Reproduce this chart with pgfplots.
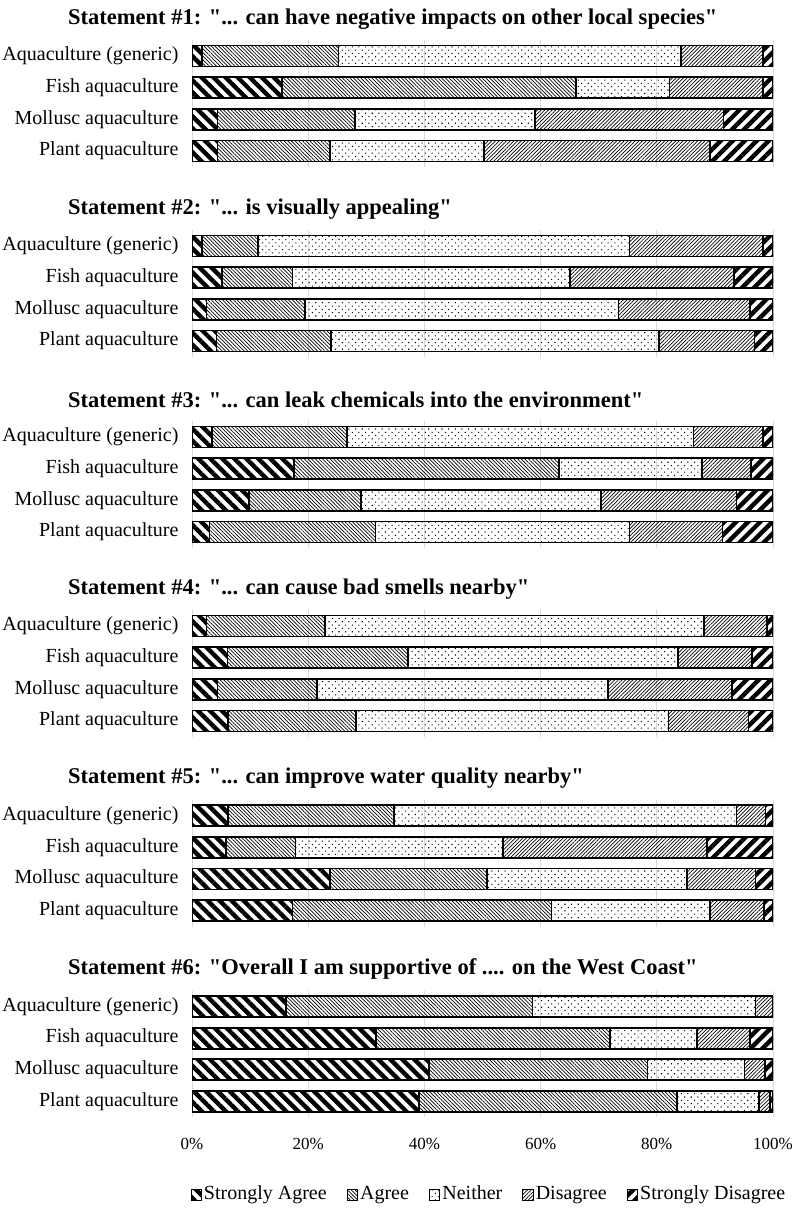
\documentclass[border=0pt]{standalone}
\usepackage{fontspec}
\setmainfont{Liberation Serif}[Ligatures=TeXOff]
\usepackage{pgfplots}
\pgfplotsset{compat=1.18}
\usetikzlibrary{patterns.meta}

\pgfplotsset{
  sa/.style={draw=black, line width=1.7pt, pattern={Lines[angle=-45,distance=8.5pt,line width=4.4pt]}},
  ag/.style={draw=black, line width=1.7pt, pattern={Lines[angle=-45,distance=2.6pt,line width=0.7pt]}},
  ne/.style={draw=black, line width=1.7pt, pattern={Dots[angle=45,distance=4.7pt,radius=0.75pt]}},
  di/.style={draw=black, line width=1.7pt, pattern={Lines[angle=45,distance=2.6pt,line width=0.7pt]}},
  sd/.style={draw=black, line width=1.7pt, pattern={Lines[angle=45,distance=8.5pt,line width=4.4pt]}},
  panel/.style={
    xbar stacked, scale only axis, width=581pt, height=126.6pt,
    anchor=north west,
    xmin=0, xmax=100, ymin=0.5, ymax=4.5,
    bar width=21pt,
    ytick={1,2,3,4},
    yticklabels={Plant aquaculture,Mollusc aquaculture,Fish aquaculture,Aquaculture (generic)},
    yticklabel style={font=\fontsize{20}{24}\selectfont, xshift=-10pt},
    xtick={0,20,40,60,80,100},
    xmajorgrids, major grid style={draw={rgb,255:red,217;green,217;blue,217}, line width=0.9pt},
    axis line style={draw=none}, tick style={draw=none},
    xticklabels={},
    title style={anchor=west, at={(axis description cs:-0.2134,1)}, yshift=15.5pt,
      font=\fontsize{22.5}{26}\selectfont\bfseries, inner sep=0pt},
  },
}

\begin{document}
\begin{tikzpicture}
\useasboundingbox (0pt,0pt) rectangle (794pt,-1210pt);

% Panel 1
\begin{axis}[panel, at={(192pt,-40.2pt)},
  title={Statement \#1: "... can have negative impacts on other local species"}]
\addplot[sa] coordinates {(1.7,4) (15.5,3) (4.4,2) (4.4,1)};
\addplot[ag] coordinates {(23.5,4) (50.6,3) (23.6,2) (19.3,1)};
\addplot[ne] coordinates {(59.0,4) (16.1,3) (31.0,2) (26.6,1)};
\addplot[di] coordinates {(14.1,4) (16.1,3) (32.5,2) (38.8,1)};
\addplot[sd] coordinates {(1.7,4) (1.7,3) (8.5,2) (10.9,1)};
\end{axis}

% Panel 2
\begin{axis}[panel, at={(192pt,-230.2pt)},
  title={Statement \#2: "... is visually appealing"}]
\addplot[sa] coordinates {(1.7,4) (5.2,3) (2.5,2) (4.2,1)};
\addplot[ag] coordinates {(9.7,4) (12.1,3) (16.9,2) (19.7,1)};
\addplot[ne] coordinates {(63.9,4) (47.8,3) (54.0,2) (56.5,1)};
\addplot[di] coordinates {(23.0,4) (28.2,3) (22.6,2) (16.4,1)};
\addplot[sd] coordinates {(1.7,4) (6.7,3) (4.0,2) (3.2,1)};
\end{axis}

% Panel 3
\begin{axis}[panel, at={(192pt,-421.2pt)},
  title={Statement \#3: "... can leak chemicals into the environment"}]
\addplot[sa] coordinates {(3.4,4) (17.5,3) (9.8,2) (3.0,1)};
\addplot[ag] coordinates {(23.3,4) (45.7,3) (19.3,2) (28.6,1)};
\addplot[ne] coordinates {(59.6,4) (24.6,3) (41.3,2) (43.7,1)};
\addplot[di] coordinates {(12.0,4) (8.4,3) (23.3,2) (16.0,1)};
\addplot[sd] coordinates {(1.7,4) (3.8,3) (6.3,2) (8.7,1)};
\end{axis}

% Panel 4
\begin{axis}[panel, at={(192pt,-610.2pt)},
  title={Statement \#4: "... can cause bad smells nearby"}]
\addplot[sa] coordinates {(2.5,4) (6.1,3) (4.4,2) (6.2,1)};
\addplot[ag] coordinates {(20.4,4) (31.1,3) (17.1,2) (22.0,1)};
\addplot[ne] coordinates {(65.2,4) (46.4,3) (50.1,2) (53.8,1)};
\addplot[di] coordinates {(10.9,4) (12.8,3) (21.4,2) (13.8,1)};
\addplot[sd] coordinates {(1.0,4) (3.6,3) (7.0,2) (4.2,1)};
\end{axis}

% Panel 5
\begin{axis}[panel, at={(192pt,-800pt)},
  title={Statement \#5: "... can improve water quality nearby"}]
\addplot[sa] coordinates {(6.2,4) (5.9,3) (23.7,2) (17.3,1)};
\addplot[ag] coordinates {(28.6,4) (11.9,3) (27.1,2) (44.6,1)};
\addplot[ne] coordinates {(58.9,4) (35.7,3) (34.4,2) (27.2,1)};
\addplot[di] coordinates {(5.0,4) (35.1,3) (11.8,2) (9.4,1)};
\addplot[sd] coordinates {(1.3,4) (11.4,3) (3.0,2) (1.5,1)};
\end{axis}

% Panel 6
\begin{axis}[panel, at={(192pt,-990.7pt)},
  title={Statement \#6: "Overall I am supportive of .... on the West Coast"},
  xticklabels={0\%,20\%,40\%,60\%,80\%,100\%},
  xticklabel style={font=\fontsize{17}{20}\selectfont, yshift=-17pt},
  legend columns=5,
  legend style={draw=none, at={(0.511,-0.60)}, anchor=center,
    font=\fontsize{20}{24}\selectfont,
    cells={anchor=base west},
    /tikz/every even column/.append style={column sep=18pt},
    inner sep=0pt},
  legend image code/.code={\draw[#1, line width=0.9pt] (0pt,-0.5pt) rectangle (10.5pt,10pt);}]
\addplot[sa] coordinates {(16.2,4) (31.7,3) (40.8,2) (39.1,1)};
\addplot[ag] coordinates {(42.4,4) (40.3,3) (37.6,2) (44.4,1)};
\addplot[ne] coordinates {(38.4,4) (14.9,3) (16.7,2) (14.1,1)};
\addplot[di] coordinates {(3.0,4) (9.2,3) (3.5,2) (1.9,1)};
\addplot[sd] coordinates {(0,4) (3.9,3) (1.4,2) (0.5,1)};
\legend{Strongly Agree,Agree,Neither,Disagree,Strongly Disagree}
\end{axis}
\end{tikzpicture}
\end{document}
